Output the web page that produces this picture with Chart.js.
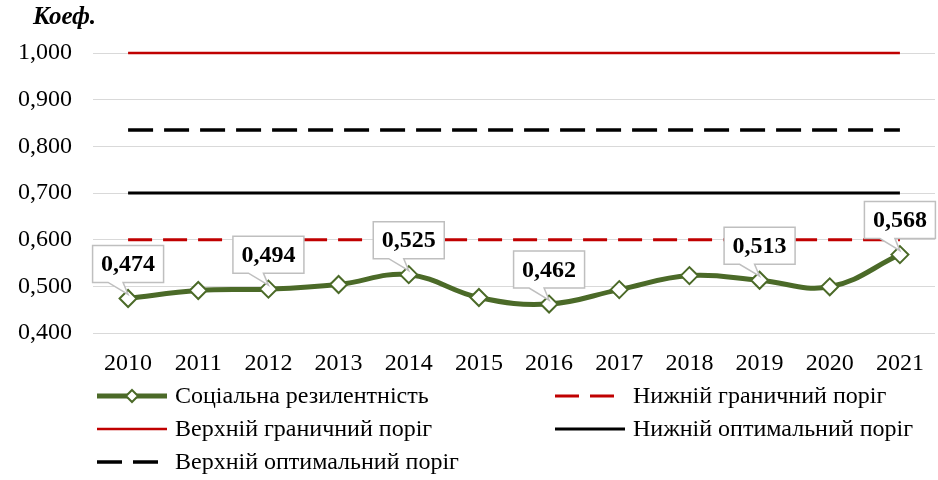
<!DOCTYPE html>
<html>
<head>
<meta charset="utf-8">
<script src="https://cdn.jsdelivr.net/npm/chart.js@4/dist/chart.umd.min.js"></script>
<style>
  html, body { margin: 0; padding: 0; background: #fff; }
</style>
</head>
<body>
<canvas id="resilience" width="938" height="480"></canvas>
<script>
const years = ['2010', '2011', '2012', '2013', '2014', '2015', '2016', '2017', '2018', '2019', '2020', '2021']
const socialResilience = [0.474, 0.491, 0.494, 0.504, 0.525, 0.476, 0.462, 0.493, 0.523, 0.513, 0.499, 0.568]
const lowerBoundary = [0.6, 0.6, 0.6, 0.6, 0.6, 0.6, 0.6, 0.6, 0.6, 0.6, 0.6, 0.6]
const upperBoundary = [1, 1, 1, 1, 1, 1, 1, 1, 1, 1, 1, 1]
const lowerOptimal = [0.7, 0.7, 0.7, 0.7, 0.7, 0.7, 0.7, 0.7, 0.7, 0.7, 0.7, 0.7]
const upperOptimal = [0.835, 0.835, 0.835, 0.835, 0.835, 0.835, 0.835, 0.835, 0.835, 0.835, 0.835, 0.835]
// years that get a value callout
const labelledYears = ['2010', '2012', '2014', '2016', '2019', '2021']
const yMin = 0.4
const yMax = 1.0
const yStep = 0.1

const serif = '"Liberation Serif", "Times New Roman", serif'
const green = '#4b6a28'

const fmt = v => v.toFixed(3).replace('.', ',')

// callout boxes with a little tail pointing at the marker
const callouts = {
    id: 'callouts',
    afterDatasetsDraw(chart) {
        const ctx = chart.ctx
        const meta = chart.getDatasetMeta(0)
        const w = 71, h = 37
        ctx.save()
        labelledYears.forEach(year => {
            const i = years.indexOf(year)
            const pt = meta.data[i]
            const cx = pt.x, bottom = pt.y - 16, top = bottom - h
            const left = cx - w / 2, right = cx + w / 2
            ctx.beginPath()
            ctx.moveTo(left, top)
            ctx.lineTo(right, top)
            ctx.lineTo(right, bottom)
            ctx.lineTo(cx - 5, bottom)
            ctx.lineTo(pt.x, pt.y - 4)
            ctx.lineTo(cx - 20, bottom)
            ctx.lineTo(left, bottom)
            ctx.closePath()
            ctx.fillStyle = '#fff'
            ctx.fill()
            ctx.strokeStyle = '#bfbfbf'
            ctx.lineWidth = 1.5
            ctx.stroke()
            ctx.fillStyle = '#000'
            ctx.font = 'bold 24px ' + serif
            ctx.textAlign = 'center'
            ctx.textBaseline = 'middle'
            ctx.fillText(fmt(socialResilience[i]), cx, top + h / 2 + 1)
        })
        ctx.restore()
    }
}

// two-column legend under the axis plus the unit caption on top
const sideLegend = {
    id: 'sideLegend',
    afterDraw(chart) {
        const ctx = chart.ctx
        const cols = [97, 555]
        const rows = [396, 429, 462]
        const slots = [[0, 0], [1, 0], [0, 1], [1, 1], [0, 2]]
        ctx.save()
        ctx.font = 'bold italic 25px ' + serif
        ctx.fillStyle = '#000'
        ctx.textBaseline = 'middle'
        ctx.textAlign = 'left'
        ctx.fillText('Коеф.', 33, 18)

        chart.data.datasets.forEach((ds, k) => {
            const x = cols[slots[k][0]], y = rows[slots[k][1]]
            ctx.beginPath()
            ctx.setLineDash(ds.borderDash || [])
            ctx.strokeStyle = ds.borderColor
            ctx.lineWidth = ds.borderWidth
            ctx.moveTo(x, y)
            ctx.lineTo(x + 70, y)
            ctx.stroke()
            ctx.setLineDash([])
            if (ds.pointRadius > 0) {
                ctx.fillStyle = '#fff'
                ctx.strokeStyle = ds.pointBorderColor
                ctx.lineWidth = 2
                ctx.beginPath()
                ctx.moveTo(x + 35, y - 6)
                ctx.lineTo(x + 41, y)
                ctx.lineTo(x + 35, y + 6)
                ctx.lineTo(x + 29, y)
                ctx.closePath()
                ctx.fill()
                ctx.stroke()
            }
            ctx.fillStyle = '#000'
            ctx.font = '24px ' + serif
            ctx.fillText(ds.label, x + 78, y + 1)
        })
        ctx.restore()
    }
}

new Chart('resilience', {
    type: 'line',
    data: {
        labels: years,
        datasets: [{
            label: 'Соціальна резилентність',
            data: socialResilience,
            borderColor: green,
            borderWidth: 5,
            tension: 0.4,
            pointStyle: 'rectRot',
            pointRadius: 8.5,
            pointBackgroundColor: '#fff',
            pointBorderColor: green,
            pointBorderWidth: 2
        }, {
            label: 'Нижній граничний поріг',
            data: lowerBoundary,
            borderColor: '#c00000',
            borderWidth: 3,
            borderDash: [24, 11],
            pointRadius: 0
        }, {
            label: 'Верхній граничний поріг',
            data: upperBoundary,
            borderColor: '#c00000',
            borderWidth: 2.5,
            pointRadius: 0,
            clip: false
        }, {
            label: 'Нижній оптимальний поріг',
            data: lowerOptimal,
            borderColor: '#000',
            borderWidth: 3,
            pointRadius: 0
        }, {
            label: 'Верхній оптимальний поріг',
            data: upperOptimal,
            borderColor: '#000',
            borderWidth: 3.5,
            borderDash: [25, 11],
            pointRadius: 0
        }]
    },
    options: {
        responsive: false,
        animation: false,
        devicePixelRatio: 1,
        layout: {
            autoPadding: false,
            padding: { top: 53, right: 3, bottom: 107, left: 0 }
        },
        plugins: {
            legend: { display: false },
            tooltip: { enabled: false }
        },
        scales: {
            x: {
                offset: true,
                grid: { display: false },
                border: { display: false },
                ticks: {
                    color: '#000',
                    padding: 8,
                    maxRotation: 0,
                    font: { family: serif, size: 24 }
                },
                afterFit: scale => {
                    scale.height = 40
                    scale.paddingLeft = 0
                    scale.paddingRight = 0
                }
            },
            y: {
                min: yMin,
                max: yMax,
                grid: { color: '#d9d9d9', lineWidth: 1, drawTicks: false },
                border: { display: false },
                ticks: {
                    stepSize: yStep,
                    color: '#000',
                    padding: 21,
                    font: { family: serif, size: 24 },
                    callback: v => fmt(v)
                },
                afterFit: scale => { scale.width = 93 }
            }
        }
    },
    plugins: [callouts, sideLegend]
})
</script>
</body>
</html>
